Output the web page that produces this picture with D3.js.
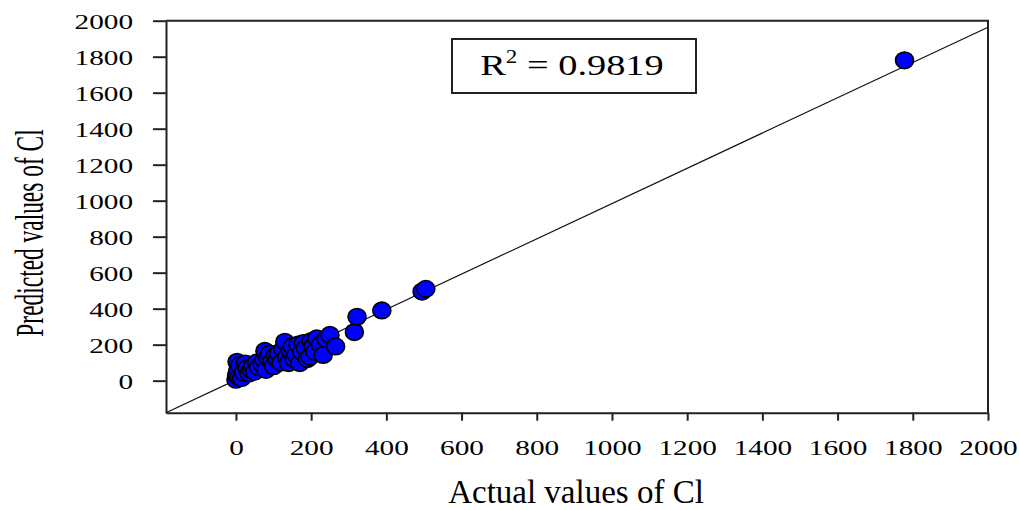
<!DOCTYPE html>
<html>
<head>
<meta charset="utf-8">
<script src="https://cdn.jsdelivr.net/npm/d3@7"></script>
<style>
  html, body { margin: 0; padding: 0; background: #fff; }
  svg text { font-family: "Liberation Serif", "Times New Roman", serif; fill: #000; }
</style>
</head>
<body>
<svg id="chart" width="1019" height="510"></svg>
<script>
// ---- data ----
const actualCl = [0, 2, 3, 5, 8, 10, 15, 20, 25, 30, 35, 40, 45, 50, 55, 60, 70, 75, 77, 80, 85, 90, 95, 100, 105, 110, 114, 120, 125, 130, 135, 140, 145, 150, 155, 160, 165, 170, 175, 179, 185, 190, 197, 200, 205, 210, 215, 225, 232, 240, 250, 265, 315, 322, 388, 495, 505, 1778];
const predictedCl = [5, 30, 105, 60, 20, 85, 15, 45, 95, 70, 40, 60, 80, 50, 100, 75, 90, 115, 165, 60, 130, 150, 105, 80, 140, 120, 153, 100, 175, 216, 130, 98, 170, 190, 120, 145, 200, 98, 160, 209, 180, 120, 133, 220, 190, 160, 235, 200, 143, 230, 254, 190, 270, 355, 390, 495, 510, 1780];
const fitX = [-186, 2000];
const fitY = [-178, 1964];
const xTicks = [0, 200, 400, 600, 800, 1000, 1200, 1400, 1600, 1800, 2000];
const yTicks = [0, 200, 400, 600, 800, 1000, 1200, 1400, 1600, 1800, 2000];
const xDomain = [-186, 2000];
const yDomain = [-178, 2000];
const r2Label = "0.9819";
const xTitle = "Actual values of Cl";
const yTitle = "Predicted values of Cl";

// ---- layout ----
const svg = d3.select("#chart");
const L = 166, R = 988, T = 20.7, B = 412.7;
const x = d3.scaleLinear().domain(xDomain).range([L, R]);
const y = d3.scaleLinear().domain(yDomain).range([B, T]);
const stretch = 1.33;

// frame (top & right)
svg.append("path")
  .attr("d", `M${L},${T}H${R}V${B}`)
  .attr("fill", "none").attr("stroke", "#222").attr("stroke-width", 2);

// y axis
const gy = svg.append("g").attr("transform", `translate(${L},0)`)
  .call(d3.axisLeft(y).tickValues(yTicks).tickSize(13).tickSizeOuter(0).tickFormat(d3.format("d")));
gy.select(".domain").attr("stroke", "#222").attr("stroke-width", 2);
gy.selectAll(".tick line").attr("stroke", "#222").attr("stroke-width", 2);
gy.selectAll(".tick text")
  .attr("font-size", 22)
  .attr("font-family", "Liberation Serif")
  .attr("x", -(L - 133) / stretch)
  .attr("dy", "0.34em")
  .attr("transform", `scale(${stretch},1)`);

// x axis
const gx = svg.append("g").attr("transform", `translate(0,${B})`)
  .call(d3.axisBottom(x).tickValues(xTicks).tickSize(8).tickSizeOuter(0).tickFormat(d3.format("d")));
gx.select(".domain").attr("stroke", "#222").attr("stroke-width", 2);
gx.selectAll(".tick line").attr("stroke", "#222").attr("stroke-width", 2);
gx.selectAll(".tick text")
  .attr("font-size", 22)
  .attr("font-family", "Liberation Serif")
  .attr("y", 42).attr("dy", 0).attr("x", 0)
  .attr("transform", `scale(${stretch},1)`);

// fit line
svg.append("line")
  .attr("x1", x(fitX[0])).attr("y1", y(fitY[0]))
  .attr("x2", x(fitX[1])).attr("y2", y(fitY[1]))
  .attr("stroke", "#111").attr("stroke-width", 1.2);

// points
svg.append("g").selectAll("ellipse")
  .data(actualCl.map((a, i) => [a, predictedCl[i]]))
  .join("ellipse")
  .attr("cx", d => x(d[0])).attr("cy", d => y(d[1]))
  .attr("rx", 9).attr("ry", 8.3)
  .attr("fill", "#0000ff").attr("stroke", "#000").attr("stroke-width", 1.6);

// R² box
svg.append("rect")
  .attr("x", 452).attr("y", 39).attr("width", 244).attr("height", 54)
  .attr("fill", "#fff").attr("stroke", "#222").attr("stroke-width", 2);
const rt = svg.append("g").attr("transform", `translate(572,75) scale(1.28,1)`)
  .append("text").attr("text-anchor", "middle").attr("font-size", 30);
rt.append("tspan").text("R");
rt.append("tspan").attr("font-size", 18).attr("dy", -12).text("2");
rt.append("tspan").attr("dy", 12).text(" = " + r2Label);

// axis titles
svg.append("text")
  .attr("x", 576).attr("y", 503)
  .attr("text-anchor", "middle").attr("font-size", 33)
  .text(xTitle);
svg.append("g").attr("transform", `translate(43,233) rotate(-90) scale(0.9,1.5)`)
  .append("text").attr("text-anchor", "middle").attr("font-size", 26)
  .text(yTitle);
</script>
</body>
</html>
